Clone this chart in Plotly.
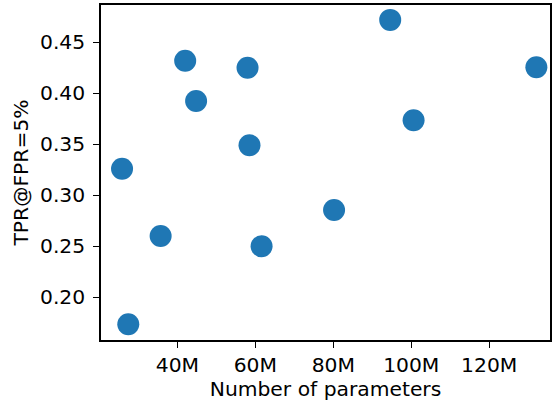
import plotly.graph_objects as go

params_m = [25.8, 27.4, 35.7, 42.0, 44.8, 58.0, 58.5, 61.6, 80.2, 94.6, 100.6, 132.1]
tpr = [0.326, 0.1735, 0.260, 0.432, 0.3925, 0.425, 0.349, 0.250, 0.2855, 0.472, 0.3735, 0.4255]

x_ticks = [40, 60, 80, 100, 120]
x_tick_labels = ["40M", "60M", "80M", "100M", "120M"]
y_ticks = [0.20, 0.25, 0.30, 0.35, 0.40, 0.45]
y_tick_labels = ["0.20", "0.25", "0.30", "0.35", "0.40", "0.45"]

font = dict(family="DejaVu Sans", size=20.3, color="black")

fig = go.Figure(go.Scatter(
    x=params_m, y=tpr, mode="markers",
    marker=dict(size=22, color="#1f77b4", line=dict(width=0)),
))

axis_common = dict(
    showgrid=False, zeroline=False, showline=True, mirror=True,
    linecolor="black", linewidth=1.5, ticks="outside", ticklen=6,
    tickwidth=1.3, tickcolor="black", tickfont=font,
)

fig.update_layout(
    width=554, height=404,
    margin=dict(l=100.5, r=2, t=5, b=64),
    paper_bgcolor="white", plot_bgcolor="white",
    showlegend=False,
    font=font,
    xaxis=dict(range=[20.4, 135.6], tickvals=x_ticks, ticktext=x_tick_labels,
               title=dict(text="Number of parameters", font=font, standoff=4),
               **axis_common),
    yaxis=dict(range=[0.1581, 0.4866], tickvals=y_ticks, ticktext=y_tick_labels,
               ticklabelstandoff=4,
               title=dict(text="TPR@FPR=5%", font=font, standoff=6),
               **axis_common),
)

fig.write_html("out.html", config={"displayModeBar": False},
               post_script="document.body.style.margin='0';")
